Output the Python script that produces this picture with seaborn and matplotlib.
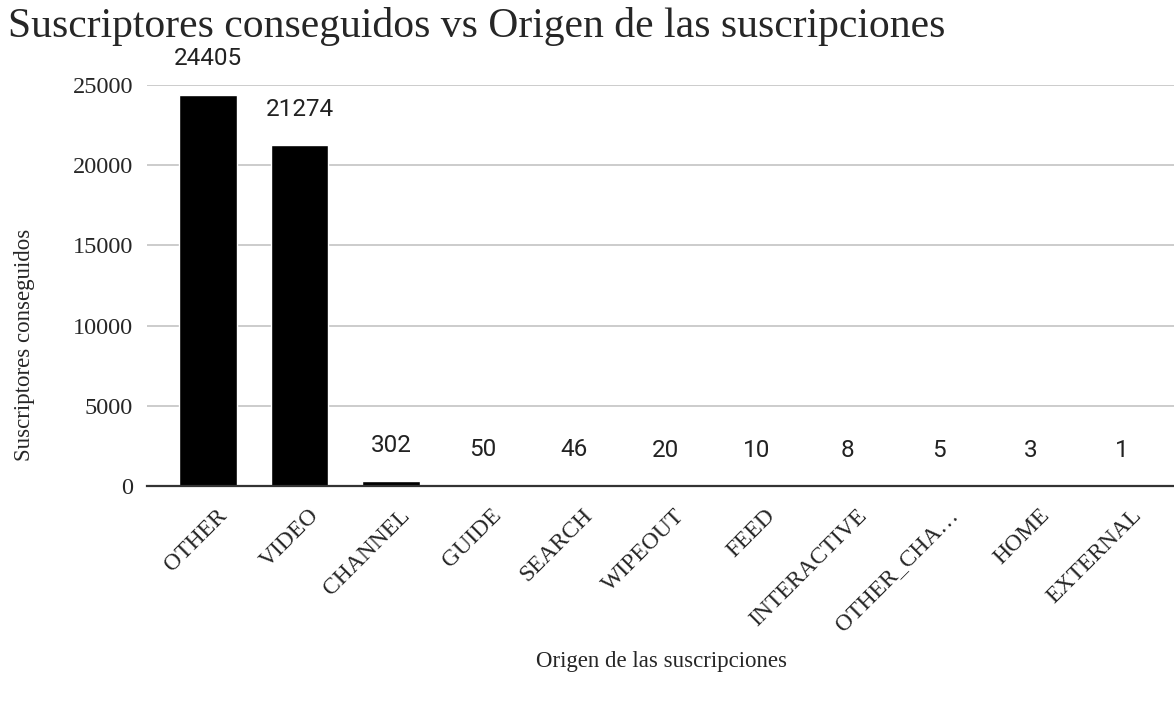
import matplotlib
matplotlib.use("Agg")
import matplotlib.pyplot as plt
import matplotlib.transforms as mtransforms
import seaborn as sns
import pandas as pd

# data
origins = ['OTHER', 'VIDEO', 'CHANNEL', 'GUIDE', 'SEARCH', 'WIPEOUT', 'FEED',
           'INTERACTIVE', 'OTHER_CHA…', 'HOME', 'EXTERNAL']
subscribers = [24405, 21274, 302, 50, 46, 20, 10, 8, 5, 3, 1]
y_ticks = [0, 5000, 10000, 15000, 20000, 25000]

df = pd.DataFrame({'origen': origins, 'subs': subscribers})

sns.set_style("white")
plt.rcParams['font.family'] = ['Liberation Serif', 'DejaVu Serif']

fig = plt.figure(figsize=(11.74, 7.04), dpi=100)
ax = fig.add_axes([147 / 1174, 1 - 486 / 704, 1 - 147 / 1174, 401 / 704])

sns.barplot(data=df, x='origen', y='subs', color='black', width=0.63,
            saturation=1, ax=ax)

ax.set_ylim(0, 25000)
ax.set_xlim(-0.67, 10.57)
ax.set_yticks(y_ticks)
ax.set_yticklabels([str(t) for t in y_ticks], fontsize=17.5)
ax.yaxis.grid(True, color='#cccccc', linewidth=1.4)
ax.set_axisbelow(True)
ax.tick_params(axis='both', length=0)
ax.tick_params(axis='y', pad=10)
ax.tick_params(axis='x', pad=19)
for s in ['top', 'right', 'left']:
    ax.spines[s].set_visible(False)
ax.spines['bottom'].set_color('#333333')
ax.spines['bottom'].set_linewidth(1.6)

ax.set_xticks(range(len(origins)))
ax.set_xticklabels(origins, rotation=45, ha='right', va='center',
                   rotation_mode='anchor', fontsize=17)
# shift rotated labels a bit to the right, like the original
shift = mtransforms.ScaledTranslation(16 / 100, 0, fig.dpi_scale_trans)
for lbl in ax.get_xticklabels():
    lbl.set_transform(lbl.get_transform() + shift)

# value labels above each bar
for i, v in enumerate(subscribers):
    ax.annotate(str(v), (i, v), xytext=(0, 21), textcoords='offset points',
                ha='center', va='baseline', fontsize=17.5, family='Roboto',
                color='#222222')

ax.set_xlabel('')
ax.set_ylabel('')
fig.text(662 / 1174, 1 - 662 / 704, 'Origen de las suscripciones',
         ha='center', va='center', fontsize=16.5)
fig.text(25 / 1174, 1 - 345 / 704, 'Suscriptores conseguidos', rotation=90,
         ha='center', va='center', fontsize=16.5)
fig.text(8 / 1174, 1 - 37 / 704,
         'Suscriptores conseguidos vs Origen de las suscripciones',
         ha='left', va='baseline', fontsize=30)

fig.savefig('out.png', dpi=100, facecolor='white')
